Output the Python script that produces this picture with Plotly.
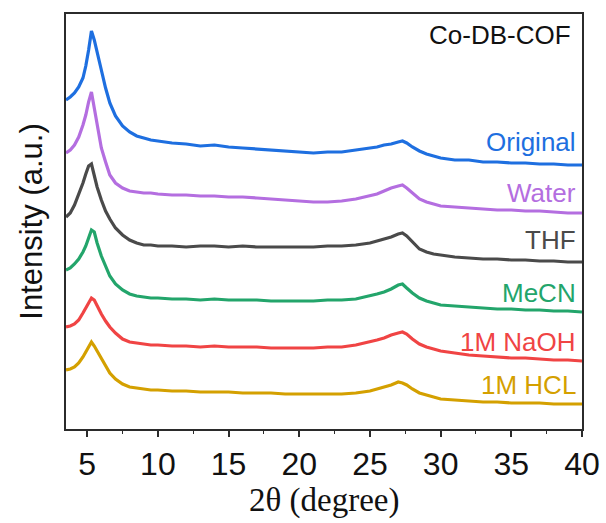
import plotly.graph_objects as go

# 2-theta positions (degree)
two_theta = [3.5, 3.8, 4.1, 4.4, 4.7, 4.9, 5.1, 5.3, 5.5, 5.7, 6.0, 6.3, 6.6, 7.0, 7.5, 8.0, 8.5, 9.0, 9.5, 10,
             11, 12, 13, 14, 15, 16, 17, 18, 19, 20, 21, 22, 23, 24, 25, 25.5, 26, 26.5, 27, 27.3,
             27.6, 28, 28.5, 29, 29.5, 30, 31, 32, 33, 34, 35, 36, 37, 38, 39, 40]

# stacked intensities (a.u., offset already applied)
original = [329, 332, 336, 342, 351, 363, 379, 398, 389, 376, 359, 341, 326, 313, 303, 297, 293, 291, 289, 288,
            286, 285, 283, 284, 282, 281, 280, 279, 278, 277, 276, 277, 277, 279, 281, 282, 284, 285, 287, 288,
            286, 282, 278, 275, 273, 271, 269, 269, 267, 267, 266, 266, 265, 265, 264, 264]
water = [276, 279, 284, 292, 304, 314, 327, 337, 321, 304, 281, 267, 254, 246, 241, 238, 237, 236, 236, 235,
         234, 234, 233, 233, 232, 232, 231, 230, 229, 228, 227, 227, 228, 230, 233, 235, 238, 241, 243, 244,
         241, 236, 230, 227, 225, 223, 222, 221, 220, 219, 219, 218, 218, 217, 216, 216]
thf = [212, 216, 224, 234, 246, 255, 263, 265, 253, 242, 229, 218, 210, 201, 194, 189, 186, 184, 184, 183,
       183, 182, 183, 183, 182, 183, 182, 182, 182, 182, 182, 183, 183, 184, 186, 188, 190, 192, 195, 196,
       193, 187, 180, 177, 175, 174, 172, 171, 170, 170, 169, 169, 168, 168, 167, 167]
mecn = [159, 161, 165, 170, 177, 183, 191, 199, 197, 186, 173, 163, 153, 145, 139, 135, 133, 132, 131, 131,
        130, 130, 129, 130, 129, 129, 129, 128, 128, 128, 128, 129, 129, 130, 133, 135, 137, 140, 144, 145,
        141, 136, 131, 128, 126, 124, 123, 122, 121, 120, 120, 119, 119, 118, 118, 117]
naoh = [102, 103, 105, 109, 116, 121, 127, 131, 129, 123, 115, 108, 102, 96, 90, 87, 86, 85, 84, 84,
        83, 83, 82, 83, 82, 82, 82, 81, 81, 81, 81, 82, 82, 84, 87, 89, 91, 94, 96, 97,
        95, 90, 85, 82, 80, 78, 76, 74, 73, 72, 71, 71, 70, 69, 69, 68]
hcl = [59, 60, 62, 66, 72, 77, 83, 87, 83, 78, 70, 63, 56, 50, 45, 42, 41, 40, 39, 39,
       38, 38, 37, 37, 37, 36, 36, 36, 35, 35, 35, 35, 35, 36, 38, 40, 42, 44, 47, 46,
       44, 40, 36, 34, 32, 30, 29, 28, 27, 27, 26, 26, 26, 25, 25, 25]

series_names = ["Original", "Water", "THF", "MeCN", "1M NaOH", "1M HCL"]
series_values = [original, water, thf, mecn, naoh, hcl]
series_colors = ["#1e6fe0", "#b46ee0", "#4a4a4a", "#23a56b", "#f04444", "#d4a000"]
label_y = [287, 236, 189, 136, 87, 44]

fig = go.Figure()
for name, vals, col in zip(series_names, series_values, series_colors):
    fig.add_trace(go.Scatter(x=two_theta, y=vals, mode="lines", name=name,
                             line=dict(color=col, width=3.2), showlegend=False))

for name, ly, col in zip(series_names, label_y, series_colors):
    fig.add_annotation(x=0.992, xref="paper", y=ly, yref="y", text=name, showarrow=False,
                       xanchor="right", yanchor="middle",
                       font=dict(family="Liberation Sans, Arial", size=26, color=col))

fig.add_annotation(x=0.982, xref="paper", y=394, yref="y", text="Co-DB-COF", showarrow=False,
                   xanchor="right", yanchor="middle",
                   font=dict(family="Liberation Sans, Arial", size=26, color="#111111"))

# x-axis title placed as annotation for exact vertical position
fig.add_annotation(x=0.5, xref="paper", y=-0.172, yref="paper", text="2θ (degree)", showarrow=False,
                   xanchor="center", yanchor="middle",
                   font=dict(family="Liberation Serif, Times New Roman", size=33, color="#111111"))

fig.update_layout(
    width=606, height=523,
    margin=dict(l=66, r=24, t=14, b=94),
    paper_bgcolor="white", plot_bgcolor="white",
    xaxis=dict(range=[3.5, 40], tick0=5, dtick=5, ticks="outside", ticklen=6, tickwidth=1.5,
               tickcolor="#2b2b2b", showline=True, linecolor="#2b2b2b", linewidth=1.5, mirror=True,
               showgrid=False, zeroline=False, automargin=False,
               minor=dict(dtick=2.5, tick0=5, ticks="outside", ticklen=3.5, tickwidth=1.2, tickcolor="#2b2b2b"),
               tickfont=dict(family="Liberation Sans, Arial", size=32, color="#111111")),
    yaxis=dict(range=[0, 415], showticklabels=False, ticks="", showline=True, linecolor="#2b2b2b",
               linewidth=1.5, mirror=True, showgrid=False, zeroline=False, automargin=False,
               title=dict(text="Intensity (a.u.)", standoff=12,
                          font=dict(family="Liberation Sans, Arial", size=31, color="#111111"))),
)

fig.write_html("out.html")
